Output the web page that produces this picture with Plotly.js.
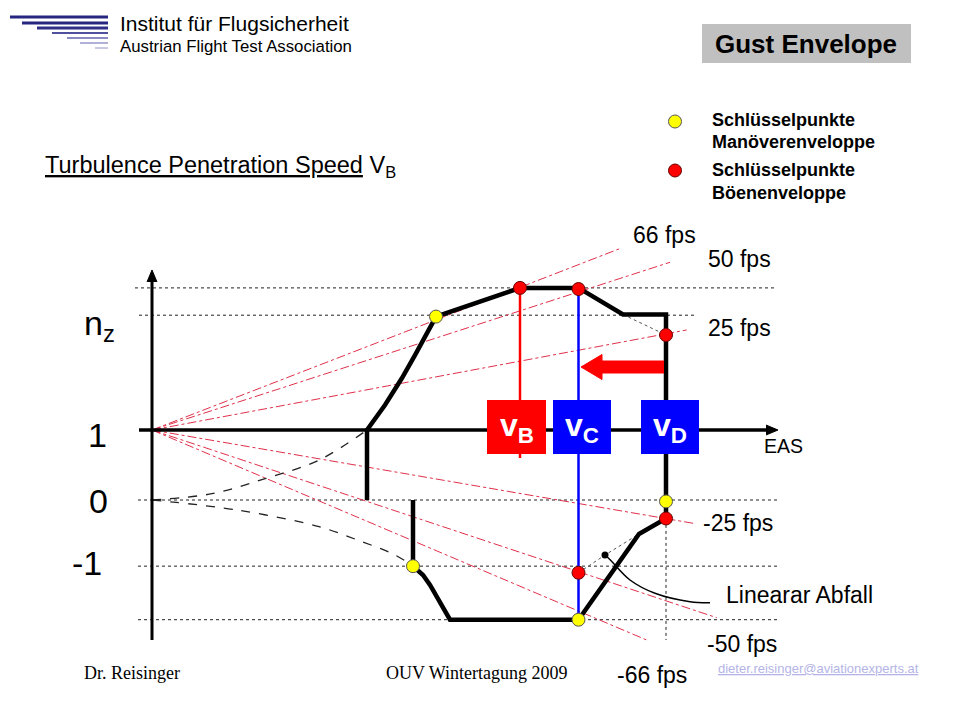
<!DOCTYPE html>
<html><head><meta charset="utf-8">
<script src="https://cdn.plot.ly/plotly-3.0.1.min.js"></script>
<style>html,body{margin:0;padding:0;background:#fff}</style>
</head><body><div id="chart" style="width:960px;height:720px"></div>
<script>
// ---------- diagram data (x = EAS in diagram units, y = load factor n) ----------
const VB = 368, VC = 426.5, VD = 514;
const gridN      = [3.03, 2.64, 0, -0.945, -1.71];
const gridStartE = [-17, -13, -14, -14, -14];
const gridEndE   = [623, 545, 628, 626, 626];

// envelope (thick black)
const envE = [215, 215, 233, 250, 263, 274, 284, 368, 426.5, 471, 514, 514, 514, 487, 426.5, 298, 285, 278, 271, 261, 261];
const envN = [0, 1, 1.357, 1.743, 2.071, 2.371, 2.62, 3.03, 3.03, 2.65, 2.65, -0.02, -0.264, -0.486, -1.71, -1.71, -1.381, -1.214, -1.071, -0.945, 0];

// maneuver parabolas below n=1 / above n=-1 (dashed)
const manUpE = [0, 60, 114, 167, 215];
const manUpN = [0, 0.09, 0.31, 0.57, 1];
const manLoE = [0, 85, 167, 210, 239, 257, 261];
const manLoN = [0, -0.143, -0.381, -0.596, -0.757, -0.904, -0.945];

// gust lines from (0, 1)
const gustLabels = ['66 fps', '50 fps', '25 fps', '-25 fps', '-50 fps', '-66 fps'];
const gustEndE = [468.7, 518, 534.7, 541.3, 564.7, 494.7];
const gustEndN = [3.596, 3.396, 2.429, -0.333, -1.681, -2.0];

// key points
const redE = [368, 426.5, 514, 514, 426.5];
const redN = [3.03, 3.014, 2.357, -0.264, -1.039];
const yelE = [284, 514, 261, 426.5];
const yelN = [2.62, -0.02, -0.945, -1.71];

// thin connectors (linear decrease)
const conUpE = [471, 514], conUpN = [2.65, 2.357];
const conLoE = [426.5, 453, 487], conLoN = [-1.039, -0.786, -0.486];
const leaderE = [453, 458.4, 478, 503, 538, 558];
const leaderN = [-0.786, -0.857, -1.143, -1.333, -1.453, -1.467];

// speed markers
const vbLineN = [3.03, 0.6];
const vcLineN = [3.014, -1.71];
const vdDotN = [-0.27, -2.0];
const arrowTailE = 512, arrowTipE = 429, arrowN = 1.9;
const axisYTop = 3.286, axisYBottom = -2.0, axisXStart = -13, axisXEnd = 626;

// ---------- layout helpers ----------
const PXN = 70; // px per unit n
const FONT = 'Liberation Sans, Arial, sans-serif';
const SERIF = 'Liberation Serif, Times New Roman, serif';
const traces = [];
function line(x, y, color, width, dash, shape) {
  traces.push({x, y, type: 'scatter', mode: 'lines', hoverinfo: 'skip',
    line: {color, width, dash: dash || 'solid', shape: shape || 'linear'}});
}
function poly(x, y, color) {
  traces.push({x, y, type: 'scatter', mode: 'lines', fill: 'toself', fillcolor: color,
    line: {color, width: 1}, hoverinfo: 'skip'});
}
// grid
gridN.forEach((n, i) => line([gridStartE[i], gridEndE[i]], [n, n], '#222', 1, 'dot'));
line([VD, VD], vdDotN, '#222', 1, 'dot');
// gust lines
gustEndE.forEach((e, i) => line([0, e], [1, gustEndN[i]], '#e0304a', 1, 'dashdot'));
// maneuver dashed curves
line(manUpE, manUpN, '#222', 1.3, 'dash', 'spline');
line(manLoE, manLoN, '#222', 1.3, 'dash', 'spline');
// axes with arrowheads
line([axisXStart, axisXEnd - 10], [1, 1], '#000', 3.5);
poly([axisXEnd - 12, axisXEnd, axisXEnd - 12], [1 + 5 / PXN, 1, 1 - 5 / PXN], '#000');
line([0, 0], [axisYBottom, axisYTop - 10 / PXN], '#000', 3);
poly([-5, 0, 5], [axisYTop - 12 / PXN, axisYTop, axisYTop - 12 / PXN], '#000');
// connectors
line(conUpE, conUpN, '#555', 1, 'dot');
line(conLoE, conLoN, '#555', 1, 'dot');
line(leaderE, leaderN, '#000', 1.5, 'solid', 'spline');
// speed lines
line([VB, VB], vbLineN, '#ff0000', 2.5);
line([VC, VC], vcLineN, '#0000ff', 2.5);
// envelope
traces.push({x: envE, y: envN, type: 'scatter', mode: 'lines', hoverinfo: 'skip',
  line: {color: '#000', width: 4.5}});
// red arrow polygon
const hb = arrowTipE + 21, b = 6 / PXN, h = 12.5 / PXN;
poly([arrowTailE, hb, hb, arrowTipE, hb, hb, arrowTailE],
  [arrowN + b, arrowN + b, arrowN + h, arrowN, arrowN - h, arrowN - b, arrowN - b], '#ff0000');
// black dot
traces.push({x: [453], y: [-0.786], type: 'scatter', mode: 'markers', hoverinfo: 'skip',
  marker: {color: '#000', size: 7}});
// key points
traces.push({x: redE, y: redN, type: 'scatter', mode: 'markers', hoverinfo: 'skip',
  marker: {color: '#ff0000', size: 13, line: {color: '#600', width: 1}}});
traces.push({x: yelE, y: yelN, type: 'scatter', mode: 'markers', hoverinfo: 'skip',
  marker: {color: '#ffff00', size: 13, line: {color: '#555', width: 1}}});

// paper helpers
const PX = x => x / 960, PY = y => 1 - y / 720;
function T(text, x, y, size, o) {
  o = o || {};
  return {text, x: PX(x), y: PY(y), xref: 'paper', yref: 'paper', showarrow: false,
    xanchor: o.anchor || 'left', yanchor: 'middle',
    font: {family: o.family || FONT, size, color: o.color || '#000'}};
}
const annotations = [
  T('Institut für Flugsicherheit', 118, 23, 21),
  T('Austrian Flight Test Association', 118, 46, 16.8),
  T('<b>Gust Envelope</b>', 806, 44, 26, {anchor: 'center'}),
  T('<b>Schlüsselpunkte</b>', 710, 120, 18),
  T('<b>Manöverenveloppe</b>', 710, 142, 18),
  T('<b>Schlüsselpunkte</b>', 710, 170, 18),
  T('<b>Böenenveloppe</b>', 710, 193, 18),
  T('<u>Turbulence Penetration Speed</u> V<sub>B</sub>', 43, 166, 23.5),
  T('n<sub>z</sub>', 99, 326, 34, {anchor: 'center'}),
  T('1', 97, 435, 34, {anchor: 'center'}),
  T('0', 98, 501, 34, {anchor: 'center'}),
  T('-1', 87, 563, 34, {anchor: 'center'}),
  T('EAS', 762, 446, 19.5),
  T('Linearar Abfall', 724, 595, 23),
  T('Dr. Reisinger', 82, 673, 18, {family: SERIF}),
  T('OUV Wintertagung 2009', 384, 673, 18, {family: SERIF}),
  T('<u>dieter.reisinger@aviationexperts.at</u>', 716, 668, 13, {color: '#b4b4e6'})
];
const gustLabelPos = [[664, 235], [739, 259], [739, 328], [738, 523], [742, 644], [652, 675]];
gustLabels.forEach((t, i) => annotations.push(T(t, gustLabelPos[i][0], gustLabelPos[i][1], 23, {anchor: 'center'})));

// speed boxes
const boxSpeeds = [VB, VC, VD];
const boxNames = ['B', 'C', 'D'];
const boxColors = ['#ff0000', '#0000ff', '#0000ff'];
const boxOff = [[-33, 26], [-25.5, 32.5], [-25, 33]];
const shapes = [];
boxSpeeds.forEach((v, i) => {
  shapes.push({type: 'rect', layer: 'above', xref: 'x', yref: 'y', xsizemode: 'pixel', ysizemode: 'pixel',
    xanchor: v, yanchor: 1, x0: boxOff[i][0], x1: boxOff[i][1], y0: -24, y1: 30,
    fillcolor: boxColors[i], line: {width: 0}});
  annotations.push({text: '<b>v<sub>' + boxNames[i] + '</sub></b>', x: v, y: 1, xref: 'x', yref: 'y',
    xshift: (boxOff[i][0] + boxOff[i][1]) / 2, yshift: 3, showarrow: false,
    font: {family: FONT, size: 32, color: '#fff'}});
});

// gray title box
shapes.push({type: 'rect', xref: 'paper', yref: 'paper', x0: PX(702), x1: PX(911), y0: PY(63), y1: PY(24),
  fillcolor: '#c0c0c0', line: {width: 0}, layer: 'below'});
// legend circles
shapes.push({type: 'circle', xref: 'paper', yref: 'paper', x0: PX(668.5), x1: PX(681.5), y0: PY(128), y1: PY(115),
  fillcolor: '#ffff00', line: {color: '#555', width: 1}});
shapes.push({type: 'circle', xref: 'paper', yref: 'paper', x0: PX(668.5), x1: PX(681.5), y0: PY(177), y1: PY(164),
  fillcolor: '#ff0000', line: {color: '#600', width: 1}});
// logo stripes
const stripeY = [17, 23, 28, 33, 38, 43, 48];
const stripeX = [10, 22, 37, 52, 67, 80, 95];
const stripeC = ['#262680', '#262680', '#2e2e88', '#50509e', '#8a8ac4', '#b0b0d8', '#c8c8e4'];
stripeY.forEach((y, i) => shapes.push({type: 'line', xref: 'paper', yref: 'paper',
  x0: PX(stripeX[i]), x1: PX(108), y0: PY(y), y1: PY(y), line: {color: stripeC[i], width: i < 3 ? 3 : 2}}));

Plotly.newPlot('chart', traces, {
  width: 960, height: 720, margin: {l: 0, r: 0, t: 0, b: 0},
  paper_bgcolor: '#fff', plot_bgcolor: '#fff', showlegend: false,
  xaxis: {range: [-152, 808], visible: false, fixedrange: true},
  yaxis: {range: [-220 / PXN, 500 / PXN], visible: false, fixedrange: true},
  shapes, annotations
}, {staticPlot: true});
</script></body></html>
